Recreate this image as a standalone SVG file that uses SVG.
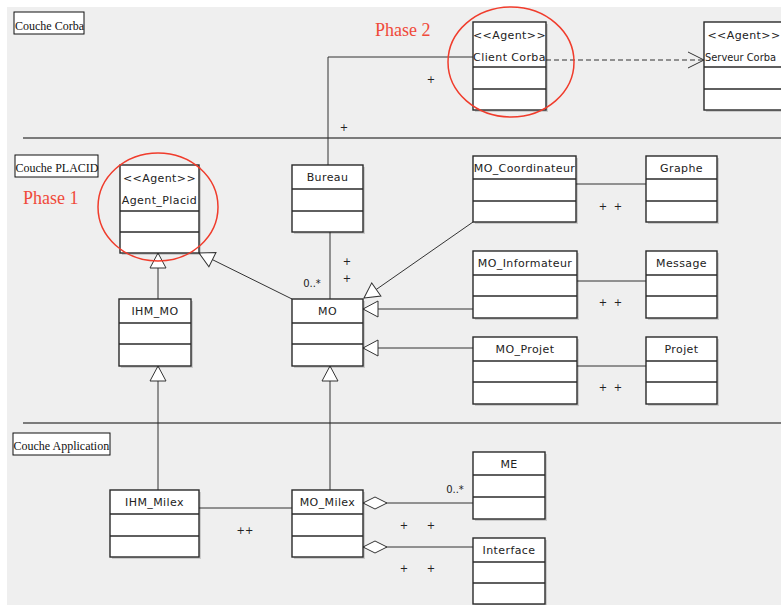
<svg xmlns="http://www.w3.org/2000/svg" width="781" height="605" viewBox="0 0 781 605">
  <style>
    .bg { fill: #efefef; }
    .layer-line { stroke: #555; stroke-width: 1.3; fill: none; }
    .layer-box { fill: #fff; stroke: #111; stroke-width: 1; }
    .layer-text { font-family: "Liberation Serif", serif; font-size: 12px; fill: #111; }
    .shadow { fill: #000; opacity: 0.15; }
    .cls { fill: #fff; stroke: #2a2a2a; stroke-width: 1.4; }
    .sep { stroke: #2a2a2a; stroke-width: 1.4; }
    .name { font-family: "DejaVu Sans", sans-serif; font-size: 11px; letter-spacing: 0.4px; fill: #222; text-anchor: middle; }
    .conn { stroke: #333; stroke-width: 1; fill: none; }
    .dash { stroke: #333; stroke-width: 1.2; fill: none; stroke-dasharray: 5 3; }
    .lbl { font-family: "DejaVu Sans", sans-serif; font-size: 10px; fill: #222; text-anchor: middle; }
    .phase { font-family: "Liberation Serif", serif; font-size: 18px; fill: #f04a3a; }
    .ring { fill: none; stroke: #f03c2c; stroke-width: 1.5; }
  </style>
  <defs>
    <marker id="gen" viewBox="0 -9 16 18" refX="15" refY="0" markerWidth="16" markerHeight="18" markerUnits="userSpaceOnUse" orient="auto" overflow="visible">
      <path d="M15,0 L0,-8 L0,8 Z" fill="#fff" stroke="#333" stroke-width="1"/>
    </marker>
    <marker id="open" viewBox="0 -9 17 18" refX="16" refY="0" markerWidth="17" markerHeight="18" markerUnits="userSpaceOnUse" orient="auto" overflow="visible">
      <path d="M0,-8 L16,0 L0,8" fill="none" stroke="#333" stroke-width="1"/>
    </marker>
    <marker id="agg" viewBox="0 -7 25 14" refX="24" refY="0" markerWidth="25" markerHeight="14" markerUnits="userSpaceOnUse" orient="auto" overflow="visible">
      <path d="M0,0 L12,-6 L24,0 L12,6 Z" fill="#fff" stroke="#333" stroke-width="1"/>
    </marker>
  </defs>

  <!-- canvas -->
  <rect x="0" y="0" width="781" height="605" fill="#fff"/>
  <rect class="bg" x="7" y="7" width="774" height="598"/>

  <!-- layer separators and titles -->
  <g id="layers">
    <line class="layer-line" x1="23" y1="138" x2="781" y2="138"/>
    <line class="layer-line" x1="23" y1="423" x2="781" y2="423"/>
    <rect class="layer-box" x="14" y="12" width="70" height="22"/>
    <text class="layer-text" x="15" y="30">Couche Corba</text>
    <rect class="layer-box" x="15" y="155" width="83" height="22"/>
    <text class="layer-text" x="15.5" y="172">Couche PLACID</text>
    <rect class="layer-box" x="13" y="433" width="97" height="22"/>
    <text class="layer-text" x="13.5" y="450">Couche Application</text>
  </g>

  <!-- connectors -->
  <g id="connectors">
    <polyline class="conn" points="328,165 328,57 473,57"/>
    <line class="dash" x1="546" y1="60" x2="704" y2="60" marker-end="url(#open)"/>
    <line class="conn" x1="330" y1="232" x2="330" y2="299"/>
    <line class="conn" x1="576" y1="184" x2="646" y2="184"/>
    <line class="conn" x1="577" y1="281" x2="646" y2="281"/>
    <line class="conn" x1="577" y1="366" x2="646" y2="366"/>
    <line class="conn" x1="473" y1="222" x2="364" y2="298" marker-end="url(#gen)"/>
    <line class="conn" x1="473" y1="309" x2="363" y2="309" marker-end="url(#gen)"/>
    <line class="conn" x1="473" y1="348" x2="363" y2="348" marker-end="url(#gen)"/>
    <line class="conn" x1="158" y1="299" x2="158" y2="253" marker-end="url(#gen)"/>
    <line class="conn" x1="292" y1="299" x2="199" y2="253" marker-end="url(#gen)"/>
    <line class="conn" x1="158" y1="490" x2="158" y2="366" marker-end="url(#gen)"/>
    <line class="conn" x1="330" y1="490" x2="330" y2="366" marker-end="url(#gen)"/>
    <line class="conn" x1="199" y1="508" x2="292" y2="508"/>
    <line class="conn" x1="473" y1="503" x2="363" y2="503" marker-end="url(#agg)"/>
    <line class="conn" x1="473" y1="547" x2="363" y2="547" marker-end="url(#agg)"/>

    <!-- association end labels -->
    <text class="lbl" x="431" y="83">+</text>
    <text class="lbl" x="344" y="131">+</text>
    <text class="lbl" x="347" y="265">+</text>
    <text class="lbl" x="347" y="282">+</text>
    <text class="lbl" x="312" y="287">0..*</text>
    <text class="lbl" x="603" y="210">+</text>
    <text class="lbl" x="618" y="210">+</text>
    <text class="lbl" x="603" y="306">+</text>
    <text class="lbl" x="618" y="306">+</text>
    <text class="lbl" x="603" y="391">+</text>
    <text class="lbl" x="618" y="391">+</text>
    <text class="lbl" x="245" y="534">++</text>
    <text class="lbl" x="455" y="493">0..*</text>
    <text class="lbl" x="404" y="529">+</text>
    <text class="lbl" x="431" y="529">+</text>
    <text class="lbl" x="404" y="572">+</text>
    <text class="lbl" x="431" y="572">+</text>
  </g>

  <!-- classes -->
  <g id="ClientCorba">
    <rect class="shadow" x="475" y="24" width="73" height="88"/>
    <rect class="cls" x="473" y="22" width="73" height="88"/>
    <line class="sep" x1="473" y1="67" x2="546" y2="67"/>
    <line class="sep" x1="473" y1="89" x2="546" y2="89"/>
    <text class="name" x="509.5" y="39">&lt;&lt;Agent&gt;&gt;</text>
    <text class="name" x="509.5" y="61">Client Corba</text>
  </g>
  <g id="ServeurCorba">
    <rect class="shadow" x="706" y="24" width="82" height="88"/>
    <rect class="cls" x="704" y="22" width="82" height="88"/>
    <line class="sep" x1="704" y1="67" x2="786" y2="67"/>
    <line class="sep" x1="704" y1="89" x2="786" y2="89"/>
    <text class="name" x="744" y="39">&lt;&lt;Agent&gt;&gt;</text>
    <text class="name" x="705" y="61" style="text-anchor:start;letter-spacing:0" textLength="71" lengthAdjust="spacingAndGlyphs">Serveur Corba</text>
  </g>
  <g id="AgentPlacid">
    <rect class="shadow" x="122" y="167" width="79" height="88"/>
    <rect class="cls" x="120" y="165" width="79" height="88"/>
    <line class="sep" x1="120" y1="211" x2="199" y2="211"/>
    <line class="sep" x1="120" y1="232" x2="199" y2="232"/>
    <text class="name" x="159.5" y="182">&lt;&lt;Agent&gt;&gt;</text>
    <text class="name" x="159.5" y="204">Agent_Placid</text>
  </g>
  <g id="Bureau">
    <rect class="shadow" x="294" y="167" width="71" height="67"/>
    <rect class="cls" x="292" y="165" width="71" height="67"/>
    <line class="sep" x1="292" y1="189" x2="363" y2="189"/>
    <line class="sep" x1="292" y1="211" x2="363" y2="211"/>
    <text class="name" x="327.5" y="181">Bureau</text>
  </g>
  <g id="MO_Coordinateur">
    <rect class="shadow" x="475" y="158" width="103" height="66"/>
    <rect class="cls" x="473" y="156" width="103" height="66"/>
    <line class="sep" x1="473" y1="179" x2="576" y2="179"/>
    <line class="sep" x1="473" y1="201" x2="576" y2="201"/>
    <text class="name" x="524.5" y="171.5">MO_Coordinateur</text>
  </g>
  <g id="Graphe">
    <rect class="shadow" x="648" y="158" width="71" height="66"/>
    <rect class="cls" x="646" y="156" width="71" height="66"/>
    <line class="sep" x1="646" y1="179" x2="717" y2="179"/>
    <line class="sep" x1="646" y1="201" x2="717" y2="201"/>
    <text class="name" x="681.5" y="171.5">Graphe</text>
  </g>
  <g id="MO_Informateur">
    <rect class="shadow" x="475" y="253" width="104" height="67"/>
    <rect class="cls" x="473" y="251" width="104" height="67"/>
    <line class="sep" x1="473" y1="275" x2="577" y2="275"/>
    <line class="sep" x1="473" y1="296" x2="577" y2="296"/>
    <text class="name" x="525" y="267">MO_Informateur</text>
  </g>
  <g id="Message">
    <rect class="shadow" x="648" y="253" width="71" height="67"/>
    <rect class="cls" x="646" y="251" width="71" height="67"/>
    <line class="sep" x1="646" y1="275" x2="717" y2="275"/>
    <line class="sep" x1="646" y1="296" x2="717" y2="296"/>
    <text class="name" x="681.5" y="267">Message</text>
  </g>
  <g id="MO_Projet">
    <rect class="shadow" x="475" y="339" width="104" height="67"/>
    <rect class="cls" x="473" y="337" width="104" height="67"/>
    <line class="sep" x1="473" y1="361" x2="577" y2="361"/>
    <line class="sep" x1="473" y1="382" x2="577" y2="382"/>
    <text class="name" x="525" y="353">MO_Projet</text>
  </g>
  <g id="Projet">
    <rect class="shadow" x="648" y="339" width="71" height="67"/>
    <rect class="cls" x="646" y="337" width="71" height="67"/>
    <line class="sep" x1="646" y1="361" x2="717" y2="361"/>
    <line class="sep" x1="646" y1="382" x2="717" y2="382"/>
    <text class="name" x="681.5" y="353">Projet</text>
  </g>
  <g id="MO">
    <rect class="shadow" x="294" y="301" width="71" height="67"/>
    <rect class="cls" x="292" y="299" width="71" height="67"/>
    <line class="sep" x1="292" y1="323" x2="363" y2="323"/>
    <line class="sep" x1="292" y1="344" x2="363" y2="344"/>
    <text class="name" x="327.5" y="315">MO</text>
  </g>
  <g id="IHM_MO">
    <rect class="shadow" x="121" y="301" width="72" height="67"/>
    <rect class="cls" x="119" y="299" width="72" height="67"/>
    <line class="sep" x1="119" y1="323" x2="191" y2="323"/>
    <line class="sep" x1="119" y1="344" x2="191" y2="344"/>
    <text class="name" x="155" y="315">IHM_MO</text>
  </g>
  <g id="IHM_Milex">
    <rect class="shadow" x="112" y="492" width="89" height="67"/>
    <rect class="cls" x="110" y="490" width="89" height="67"/>
    <line class="sep" x1="110" y1="514" x2="199" y2="514"/>
    <line class="sep" x1="110" y1="536" x2="199" y2="536"/>
    <text class="name" x="154.5" y="506">IHM_Milex</text>
  </g>
  <g id="MO_Milex">
    <rect class="shadow" x="294" y="492" width="71" height="67"/>
    <rect class="cls" x="292" y="490" width="71" height="67"/>
    <line class="sep" x1="292" y1="514" x2="363" y2="514"/>
    <line class="sep" x1="292" y1="536" x2="363" y2="536"/>
    <text class="name" x="327.5" y="506">MO_Milex</text>
  </g>
  <g id="ME">
    <rect class="shadow" x="475" y="454" width="72" height="67"/>
    <rect class="cls" x="473" y="452" width="72" height="67"/>
    <line class="sep" x1="473" y1="475" x2="545" y2="475"/>
    <line class="sep" x1="473" y1="497" x2="545" y2="497"/>
    <text class="name" x="509" y="467.5">ME</text>
  </g>
  <g id="Interface">
    <rect class="shadow" x="475" y="540" width="72" height="66"/>
    <rect class="cls" x="473" y="538" width="72" height="66"/>
    <line class="sep" x1="473" y1="562" x2="545" y2="562"/>
    <line class="sep" x1="473" y1="583" x2="545" y2="583"/>
    <text class="name" x="509" y="554">Interface</text>
  </g>

  <!-- phase highlights -->
  <g id="phases">
    <ellipse class="ring" cx="511" cy="62" rx="63" ry="55"/>
    <ellipse class="ring" cx="158" cy="207" rx="60" ry="54"/>
    <text class="phase" x="375" y="36">Phase 2</text>
    <text class="phase" x="23" y="204">Phase 1</text>
  </g>
</svg>
